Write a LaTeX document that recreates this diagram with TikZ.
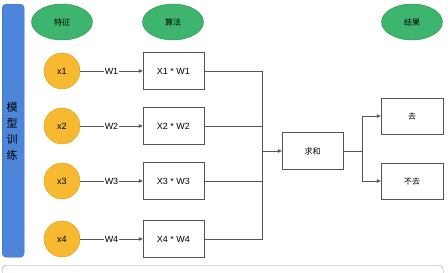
\documentclass[tikz,border=0pt]{standalone}
\usepackage{fontspec}
\setmainfont{Liberation Sans}
\newfontfamily\cjk{Noto Sans CJK SC}
\usetikzlibrary{arrows.meta,shapes.geometric}
\definecolor{grnfill}{HTML}{3DB56E}
\definecolor{grnline}{HTML}{2B8A50}
\definecolor{orgfill}{HTML}{F6B930}
\definecolor{orgline}{HTML}{D89A1C}
\definecolor{bluefill}{HTML}{4D85DA}
\definecolor{blueline}{HTML}{3566B5}
\definecolor{wire}{HTML}{555555}
\tikzset{
  head/.style={ellipse,draw=grnline,fill=grnfill,minimum width=61pt,minimum height=36pt,inner sep=0pt,font=\cjk\fontsize{8}{9}\selectfont},
  feat/.style={circle,draw=orgline,fill=orgfill,minimum size=36pt,inner sep=0pt,font=\fontsize{9}{10}\selectfont},
  calc/.style={rectangle,draw=wire,fill=white,minimum width=61pt,minimum height=37pt,inner sep=0pt,font=\fontsize{9}{10}\selectfont},
  res/.style={rectangle,draw=wire,fill=white,minimum width=62pt,minimum height=36pt,inner sep=0pt,font=\cjk\fontsize{8}{9}\selectfont},
  conn/.style={draw=wire,line width=0.6pt},
  arr/.style={conn,-{Triangle[length=4pt,width=3.5pt]}},
  wlab/.style={fill=white,inner sep=1pt,font=\fontsize{9}{10}\selectfont}
}
\begin{document}
\begin{tikzpicture}[x=1pt,y=-1pt]
\useasboundingbox (0,0) rectangle (448,273);
% left bar
\node (bar) [draw=blueline,fill=bluefill,rounded corners=4pt,minimum width=22pt,minimum height=253pt,inner sep=0pt,anchor=north west] at (2,4) {};
\node (bartxt) [align=center,font=\cjk\fontsize{11}{16}\selectfont] at (12,131) {模\\型\\训\\练};
% headers
\node (h1) [head] at (62,22) {特征};
\node (h2) [head] at (173,22) {算法};
\node (h3) [head] at (412,22) {结果};
% features
\node (x1) [feat] at (62,71) {x1};
\node (x2) [feat] at (62,126) {x2};
\node (x3) [feat] at (62,181) {x3};
\node (x4) [feat] at (62,239) {x4};
% calc boxes
\node (c1) [calc] at (173.5,71) {X1 * W1};
\node (c2) [calc] at (173.5,126) {X2 * W2};
\node (c3) [calc] at (173.5,181) {X3 * W3};
\node (c4) [calc] at (173.5,239) {X4 * W4};
% sum and results
\node (sum) [calc,font=\cjk\fontsize{8}{9}\selectfont] at (312.5,151) {求和};
\node (go) [res] at (412,116) {去};
\node (nogo) [res] at (412,181) {不去};
% feature arrows
\foreach \i in {1,2,3,4}{
  \draw[arr] (x\i) -- node[wlab] {W\i} (c\i);
}
% merge
\coordinate (mtop) at (262,71);
\coordinate (mbot) at (262,239);
\coordinate (mmid) at (262,151);
\draw[conn] (c1.east) -- (mtop) -- (mbot) -- (c4.east);
\draw[conn] (c2.east) -- (c2.east -| mtop);
\draw[conn] (c3.east) -- (c3.east -| mtop);
\draw[arr] (mmid) -- (sum.west);
% split
\coordinate (stop) at (362,116);
\coordinate (sbot) at (362,181);
\draw[conn] (sum.east) -- (sum.east -| stop);
\draw[conn] (stop) -- (sbot);
\draw[arr] (stop) -- (go.west);
\draw[arr] (sbot) -- (nogo.west);
% bottom panel (cut off)
\node (panel) [draw=gray!80,rounded corners=4pt,minimum width=441pt,minimum height=30pt,anchor=north west,inner sep=0pt] at (2,265) {};
\end{tikzpicture}
\end{document}
